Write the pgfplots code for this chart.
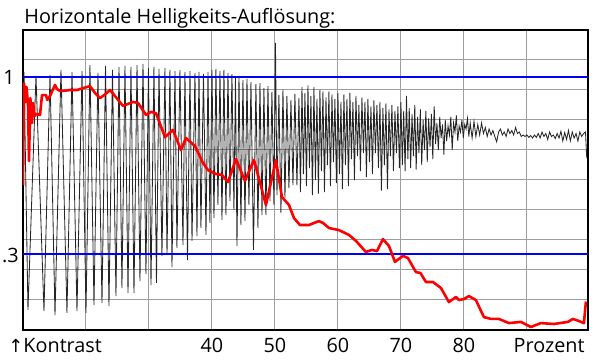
\documentclass[border=0pt]{standalone}
\usepackage{fontspec}
\setmainfont{Open Sans}
\newfontfamily\dejavu{DejaVu Sans}
\usepackage{pgfplots}
\pgfplotsset{compat=1.18}
\newcommand\lbl{\fontsize{9.9}{12}\selectfont}
\begin{document}
\begin{tikzpicture}
\useasboundingbox (-11.5pt,-17pt) rectangle (288.5pt,165pt);
\begin{axis}[
  at={(0,0)}, anchor=south west,
  scale only axis, width=282.5pt, height=150pt,
  xmin=10, xmax=99.7, ymin=0, ymax=10,
  xtick={20,30,40,50,60,70,80,90},
  xticklabels={,,40,50,60,70,80,},
  ytick={1,2,3,4,5,6,7,8,9},
  yticklabels={},
  major tick length=0pt,
  grid=major,
  major grid style={black!38, line width=0.5pt},
  axis line style={black, line width=1.1pt},
  /pgf/number format/assume math mode=true,
  xticklabel style={font=\lbl, anchor=base, yshift=-11.3pt, inner sep=0pt},
  clip=true,
]
% measured signal (black)
\addplot[black!85, line width=0.42pt] coordinates {
(10.16,8.60) (10.79,0.67) (12.06,8.47) (13.33,0.63) (14.29,8.50) (15.08,0.50) (16.03,8.67) (16.98,0.57) (17.78,8.60) (18.57,0.63) (19.37,8.63) (20.00,0.57) (20.63,8.83) (21.27,0.83) (21.90,8.57) (22.54,0.90) (23.10,8.80) (23.65,0.80) (24.21,8.67) (24.76,1.13) (25.24,8.77) (25.71,1.40) (26.19,8.80) (26.67,1.23) (27.14,8.77) (27.62,1.23) (28.10,8.83) (28.57,1.63) (29.05,8.87) (29.52,1.87) (29.92,8.73) (30.32,1.50) (30.79,8.77) (31.19,1.57) (31.59,8.70) (32.06,2.47) (32.54,8.73) (32.86,2.50) (33.33,8.67) (33.65,2.10) (34.13,8.63) (34.44,2.73) (34.92,8.67) (35.40,2.83) (35.71,8.60) (36.11,2.33) (36.51,8.63) (36.83,2.97) (37.30,8.57) (37.62,3.13) (37.94,8.60) (38.25,3.40) (38.65,8.53) (39.05,3.17) (39.37,8.60) (39.68,3.57) (40.00,8.67) (40.32,3.73) (40.63,8.70) (40.95,4.17) (41.27,8.63) (41.59,3.67) (41.90,8.67) (42.22,3.83) (42.54,8.57) (42.86,4.30) (43.17,8.53) (43.49,4.00) (43.73,8.40) (43.97,2.80) (44.29,8.47) (44.60,3.50) (44.92,8.33) (45.24,3.63) (45.56,8.37) (45.87,4.17) (46.19,8.27) (46.59,2.67) (46.98,8.20) (47.30,3.40) (47.62,8.23) (47.94,3.83) (48.25,8.07) (48.57,3.83) (48.89,8.13) (49.21,4.30) (49.52,7.93) (49.84,4.17) (50.08,9.57) (50.32,4.50) (50.63,7.83) (50.95,3.90) (51.27,8.00) (51.59,4.40) (51.90,7.80) (52.22,4.73) (52.54,7.67) (52.86,4.83) (53.17,7.87) (53.49,4.83) (53.81,7.73)
(54.05,4.6) (54.29,8.1) (54.52,5.2) (54.76,7.9) (55.00,4.8) (55.24,8.15) (55.48,5.4) (55.71,7.8) (55.95,4.5) (56.19,8.1) (56.43,5.0) (56.67,7.7) (56.90,4.55) (57.14,8.0) (57.38,5.3) (57.62,7.95) (57.86,4.6) (58.10,7.75) (58.33,5.5) (58.57,7.95) (58.81,4.8) (59.05,7.85) (59.29,5.6) (59.52,7.7) (59.76,4.9) (60.00,7.9) (60.24,5.2) (60.48,7.6) (60.71,4.7) (60.95,7.85) (61.19,5.5) (61.43,7.7) (61.67,4.8) (61.90,7.9) (62.14,5.7) (62.38,7.6) (62.62,5.0) (62.86,7.8) (63.10,5.8) (63.33,7.5) (63.57,5.3) (63.81,7.75) (64.05,5.9) (64.29,7.6) (64.52,5.1) (64.76,7.7) (65.00,5.6) (65.24,7.45) (65.48,5.2) (65.71,7.65) (65.95,5.9) (66.19,7.5) (66.43,5.4) (66.67,7.6) (66.90,4.65) (67.14,7.4) (67.38,5.5) (67.62,7.55) (67.86,4.7) (68.10,7.35) (68.33,5.8) (68.57,7.5) (68.81,5.3) (69.05,7.3) (69.29,5.9) (69.52,7.45) (69.76,5.4) (70.00,7.6)
(70.22,5.5) (70.44,7.3) (70.66,5.3) (70.88,7.8) (71.10,5.7) (71.32,7.4) (71.54,5.4) (71.76,7.2) (71.98,5.8) (72.20,7.5) (72.42,5.35) (72.64,7.1) (72.86,5.9) (73.08,7.35) (73.30,5.5) (73.52,7.0) (73.74,6.0) (73.96,7.3) (74.18,5.6) (74.40,7.05) (74.62,6.1) (74.84,7.2) (75.06,5.7) (75.28,7.45) (75.50,6.2) (75.72,6.9) (75.94,6.0) (76.16,7.1) (76.38,6.4) (76.60,6.85) (76.82,5.85) (77.04,7.0) (77.26,6.3) (77.48,6.8) (77.70,6.5) (77.92,7.1) (78.14,6.0) (78.36,6.9) (78.58,6.6) (78.80,7.15) (79.02,6.3) (79.24,6.8) (79.46,6.6) (79.68,7.0) (79.90,6.4) (80.12,6.85) (80.34,6.7) (80.56,7.05) (80.78,6.45) (81.00,6.9)
(81.3,6.4) (81.6,6.95) (81.9,6.45) (82.2,6.85) (82.5,6.5) (82.8,6.9) (83.1,6.55) (83.4,6.75) (83.7,6.45) (84.0,6.7) (84.3,6.5) (84.6,6.65) (84.9,6.45) (85.2,6.27) (85.5,6.6) (85.8,6.7) (86.1,6.5) (86.4,6.6) (86.7,6.45) (87.0,6.7) (87.3,6.55) (87.6,6.65) (87.9,6.5) (88.2,6.75) (88.5,6.55) (88.8,6.6) (89.1,6.45) (89.4,6.5) (89.7,6.45) (90.0,6.5) (90.3,6.42) (90.6,6.48) (90.9,6.4) (91.2,6.5) (91.5,6.42) (91.8,6.55) (92.1,6.4) (92.4,6.6) (92.7,6.45) (93.0,6.55) (93.3,6.35) (93.6,6.6) (93.9,6.45) (94.2,6.5) (94.5,6.38) (94.8,6.55) (95.1,6.4) (95.4,6.62) (95.7,6.3) (96.0,6.58) (96.3,6.35) (96.6,6.65) (96.9,6.3) (97.2,6.6) (97.5,6.4) (97.8,6.55) (98.1,6.3) (98.4,6.6) (98.7,6.45) (99.0,6.55) (99.3,6.6) (99.5,5.73)
};
% reference levels
\addplot[blue, line width=0.8pt] coordinates {(10,8.43) (99.7,8.43)};
\addplot[blue, line width=0.8pt] coordinates {(10,2.53) (99.7,2.53)};
% contrast curve (red)
\addplot[red, line width=1.3pt, line join=round] coordinates {
(10.00,4.83) (10.16,8.23) (10.40,7.60) (10.56,8.10) (10.80,7.50) (10.95,5.63) (11.17,7.73) (11.43,6.90) (11.62,7.57) (11.85,7.13) (12.06,7.20) (12.70,7.17) (13.02,7.83) (13.65,7.83) (13.86,7.67) (14.29,7.80) (15.08,8.17) (15.40,8.03) (15.87,7.97) (16.35,7.97) (17.46,8.00) (18.57,8.00) (19.68,8.07) (20.16,8.10) (20.63,8.13) (21.43,7.90) (22.22,7.73) (23.02,7.85) (23.81,8.00) (24.60,7.80) (25.87,7.47) (27.46,7.60) (28.25,7.57) (29.52,7.17) (30.32,7.27) (31.11,7.23) (32.54,6.43) (33.81,6.67) (35.08,6.00) (35.87,6.40) (37.30,6.13) (38.57,5.57) (39.37,5.33) (40.63,5.20) (41.59,5.17) (42.54,4.93) (43.81,5.70) (45.24,4.97) (46.67,5.67) (48.57,4.17) (50.16,5.67) (51.11,4.43) (52.22,4.17) (53.02,3.73) (53.97,3.50) (55.40,3.50) (56.98,3.63) (57.62,3.57) (58.57,3.40) (60.16,3.33) (61.75,3.17) (62.86,2.97) (64.44,2.60) (65.40,2.67) (66.19,2.63) (67.14,3.03) (68.10,2.80) (69.05,2.27) (70.32,2.47) (71.11,2.40) (72.38,1.93) (73.10,1.90) (73.97,1.60) (75.08,1.60) (76.35,1.40) (77.62,0.93) (78.73,1.10) (79.21,1.00) (80.00,1.03) (80.79,1.13) (81.90,1.00) (83.17,0.43) (84.29,0.37) (85.56,0.37) (87.14,0.23) (89.05,0.27) (90.63,0.10) (92.22,0.23) (94.29,0.20) (96.51,0.27) (97.30,0.37) (98.25,0.30) (99.05,0.23) (99.37,0.95)
};
\end{axis}
\node[anchor=base west, inner sep=0pt, font=\lbl] at (0.5pt,153pt) {Horizontale Helligkeits-Auflösung:};
\node[anchor=base east, inner sep=0pt, font=\lbl] at (-4pt,122.5pt) {1};
\node[anchor=base east, inner sep=0pt, font=\lbl] at (-2pt,34pt) {.3};
\node[anchor=base west, inner sep=0pt, font=\lbl] at (-7.5pt,-11.3pt) {{\dejavu\fontsize{9}{10}\selectfont ↑}Kontrast};
\node[anchor=base east, inner sep=0pt, font=\lbl] at (281pt,-11.3pt) {Prozent};
\end{tikzpicture}
\end{document}
